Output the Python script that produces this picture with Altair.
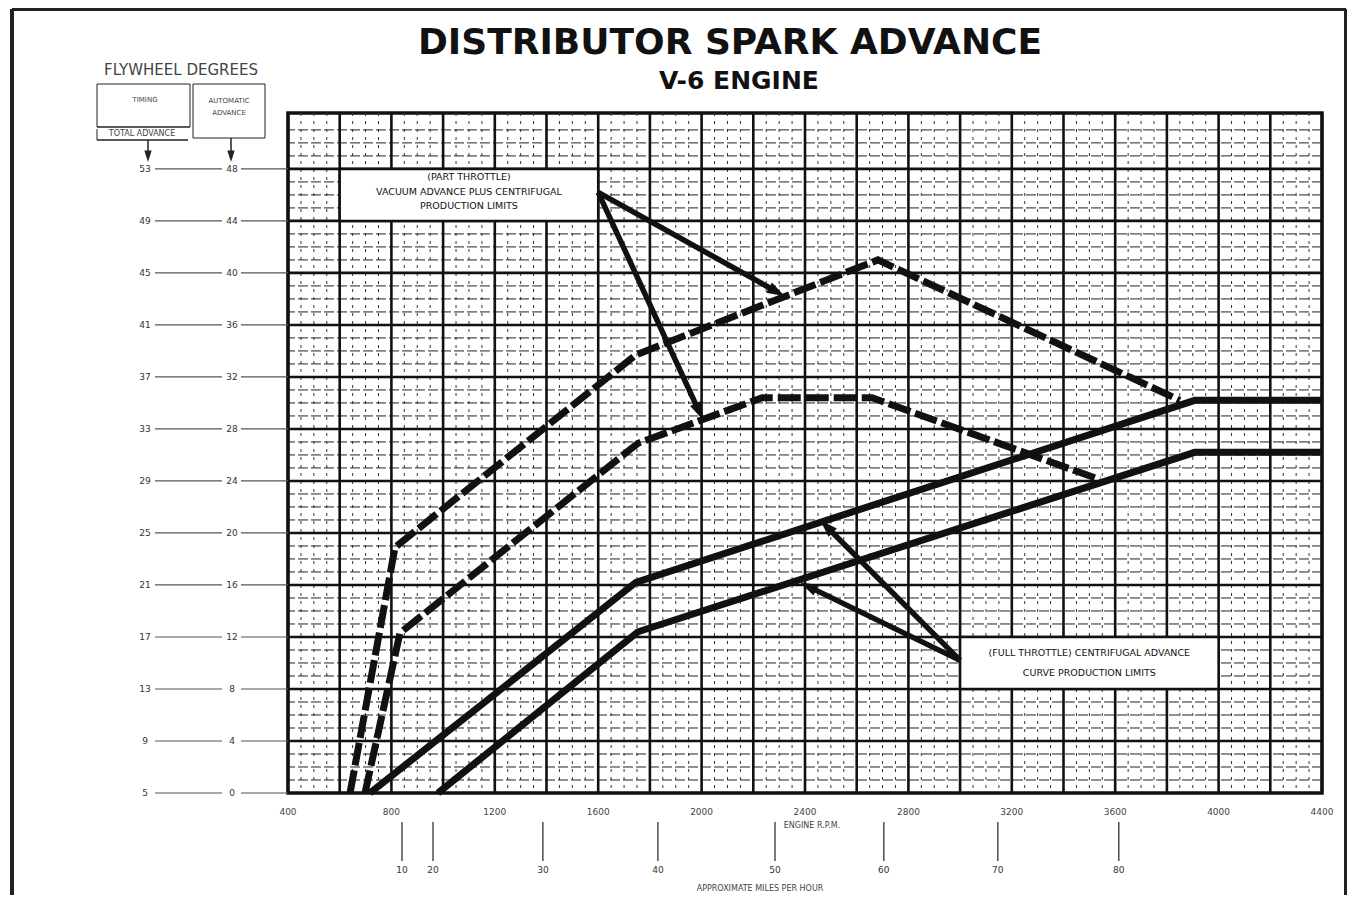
import math
import numpy as np
import pandas as pd
import altair as alt

# ---------------- data ----------------
rpm_ticks = [400, 800, 1200, 1600, 2000, 2400, 2800, 3200, 3600, 4000, 4400]
timing_labels = [5, 9, 13, 17, 21, 25, 29, 33, 37, 41, 45, 49, 53]
advance_labels = [0, 4, 8, 12, 16, 20, 24, 28, 32, 36, 40, 44, 48]
mph_values = [10, 20, 30, 40, 50, 60, 70, 80]
mph_rpm = [841, 961, 1386, 1831, 2284, 2705, 3146, 3614]

part_upper_rpm = [640, 814, 1746, 2682, 3850]
part_upper_deg = [0, 18.9, 33.7, 41.0, 30.2]
part_lower_rpm = [698, 833, 1754, 2234, 2659, 3541]
part_lower_deg = [0, 12.3, 26.9, 30.4, 30.4, 24.1]
full_upper_rpm = [717, 1746, 3908, 4400]
full_upper_deg = [0, 16.2, 30.2, 30.2]
full_lower_rpm = [980, 1754, 3908, 4400]
full_lower_deg = [0, 12.4, 26.2, 26.2]

part_label = ["(PART THROTTLE)", "VACUUM ADVANCE PLUS CENTRIFUGAL", "PRODUCTION LIMITS"]
full_label = ["(FULL THROTTLE) CENTRIFUGAL ADVANCE", "CURVE PRODUCTION LIMITS"]

# ---------------- layout ----------------
W, H = 1034, 680
XD = [400, 4400]
YD = [0, 52.3]
PX = W / (XD[1] - XD[0])
PY = H / (YD[1] - YD[0])
FONT = "DejaVu Sans"

xs = alt.Scale(domain=XD, nice=False, zero=False)
ys = alt.Scale(domain=YD, nice=False, zero=False)

# ---------------- grid ----------------
minor_v = pd.DataFrame({"rpm": [r for r in np.arange(400, 4401, 50) if r % 200 != 0]})
major_v = pd.DataFrame({"rpm": np.arange(400, 4401, 200)})
minor_h = pd.DataFrame({"deg": [d for d in np.arange(1, 53, 1) if d % 4 != 0]})
major_h = pd.DataFrame({"deg": np.arange(4, 52, 4)})

g_minor_v = alt.Chart(minor_v).mark_rule(color="#333", strokeWidth=1, strokeDash=[3, 5]).encode(
    x=alt.X("rpm:Q", scale=xs, axis=None))
g_minor_h = alt.Chart(minor_h).mark_rule(color="#222", strokeWidth=1, strokeDash=[10, 3]).encode(
    y=alt.Y("deg:Q", scale=ys, axis=None))
g_major_v = alt.Chart(major_v).mark_rule(color="#111", strokeWidth=2.6).encode(
    x=alt.X("rpm:Q", scale=xs, axis=None))
g_major_h = alt.Chart(major_h).mark_rule(color="#111", strokeWidth=2.6).encode(
    y=alt.Y("deg:Q", scale=ys, axis=None))

rpm_df = pd.DataFrame({"rpm": rpm_ticks, "t": [str(v) for v in rpm_ticks]})
rpm_text = alt.Chart(rpm_df).mark_text(font=FONT, fontSize=9, color="#444", baseline="middle").encode(
    x=alt.X("rpm:Q", scale=xs), y=alt.value(699), text="t:N")

# ---------------- curves ----------------
def series(name, rpm, deg):
    return pd.DataFrame({"series": name, "rpm": rpm, "deg": deg, "o": range(len(rpm))})

dashed = pd.concat([series("pu", part_upper_rpm, part_upper_deg),
                    series("pl", part_lower_rpm, part_lower_deg)])
solid = pd.concat([series("fu", full_upper_rpm, full_upper_deg),
                   series("fl", full_lower_rpm, full_lower_deg)])

l_dash = alt.Chart(dashed).mark_line(color="#111", strokeWidth=7, strokeDash=[23, 5], strokeCap="butt",
                                     strokeJoin="miter").encode(
    x=alt.X("rpm:Q", scale=xs), y=alt.Y("deg:Q", scale=ys), detail="series:N", order="o:Q")
l_solid = alt.Chart(solid).mark_line(color="#111", strokeWidth=7, strokeJoin="miter").encode(
    x=alt.X("rpm:Q", scale=xs), y=alt.Y("deg:Q", scale=ys), detail="series:N", order="o:Q")

# ---------------- annotation boxes and arrows ----------------
boxes = pd.DataFrame({"x": [600, 3000], "x2": [1600, 4000], "y": [44, 8], "y2": [48, 12]})
b_layer = alt.Chart(boxes).mark_rect(fill="white", stroke="#111", strokeWidth=2.5).encode(
    x=alt.X("x:Q", scale=xs), x2="x2:Q", y=alt.Y("y:Q", scale=ys), y2="y2:Q")

ann_text = pd.DataFrame({
    "rpm": [1100, 1100, 1100, 3500, 3500],
    "deg": [47.4, 46.2, 45.15, 10.75, 9.2],
    "t": part_label + full_label,
})
t_layer = alt.Chart(ann_text).mark_text(font=FONT, fontSize=9.5, color="#111").encode(
    x=alt.X("rpm:Q", scale=xs), y=alt.Y("deg:Q", scale=ys), text="t:N")

arrows = [(1600, 46.2, 2322, 38.2), (1600, 46.2, 2005, 28.7),
          (3000, 10.2, 2458, 21.0), (3000, 10.2, 2380, 16.2)]
shaft_rows, head_rows = [], []
for x0, y0, x1, y1 in arrows:
    dx = (x1 - x0) * PX
    dy = -(y1 - y0) * PY
    L = math.hypot(dx, dy)
    ang = math.degrees(math.atan2(dx, -dy)) % 360
    back = 12.0
    ex = x1 - (dx / L * back) / PX
    ey = y1 + (dy / L * back) / PY
    shaft_rows.append({"x": x0, "y": y0, "x2": ex, "y2": ey})
    head_rows.append({"x": x1, "y": y1, "a": ang})
shafts = alt.Chart(pd.DataFrame(shaft_rows)).mark_rule(color="#111", strokeWidth=5.5).encode(
    x=alt.X("x:Q", scale=xs), y=alt.Y("y:Q", scale=ys), x2="x2:Q", y2="y2:Q")
ARROW = "M0,0L-0.55,1.7L0.55,1.7Z"
heads = alt.Chart(pd.DataFrame(head_rows)).mark_point(shape=ARROW, filled=True, color="#111", size=450,
                                                        opacity=1).encode(
    x=alt.X("x:Q", scale=xs), y=alt.Y("y:Q", scale=ys), angle=alt.Angle("a:Q", scale=None))

# ---------------- left degree scales ----------------
left = pd.DataFrame({"deg": advance_labels, "timing": [str(v) for v in timing_labels],
                     "auto": [str(v) for v in advance_labels]})
left_rule1 = alt.Chart(left).mark_rule(color="#555", strokeWidth=1.2).encode(
    y=alt.Y("deg:Q", scale=ys), x=alt.value(-133), x2=alt.value(-66))
left_rule2 = alt.Chart(left).mark_rule(color="#555", strokeWidth=1.2).encode(
    y=alt.Y("deg:Q", scale=ys), x=alt.value(-47), x2=alt.value(0))
left_t1 = alt.Chart(left).mark_text(font=FONT, fontSize=9, color="#333").encode(
    y=alt.Y("deg:Q", scale=ys), x=alt.value(-143), text="timing:N")
left_t2 = alt.Chart(left).mark_text(font=FONT, fontSize=9, color="#333").encode(
    y=alt.Y("deg:Q", scale=ys), x=alt.value(-56), text="auto:N")

# ---------------- mph scale ----------------
mph = pd.DataFrame({"rpm": mph_rpm, "mph": [str(v) for v in mph_values]})
mph_ticks = alt.Chart(mph).mark_rule(color="#333", strokeWidth=1.3).encode(
    x=alt.X("rpm:Q", scale=xs), y=alt.value(709), y2=alt.value(748))
mph_text = alt.Chart(mph).mark_text(font=FONT, fontSize=9, color="#333", baseline="middle").encode(
    x=alt.X("rpm:Q", scale=xs), y=alt.value(757), text="mph:N")

# ---------------- pixel-placed decoration (relative to plot origin) ----------------
OX, OY = 288, 113
px_rules = pd.DataFrame([
    # outer frame
    {"x": 12, "x2": 12, "y": 9, "y2": 910, "w": 4},
    {"x": 12, "x2": 1346, "y": 9, "y2": 9, "w": 4},
    {"x": 1346, "x2": 1346, "y": 9, "y2": 910, "w": 4},
    # legend boxes
    {"x": 97, "x2": 190, "y": 84, "y2": 84, "w": 1},
    {"x": 97, "x2": 97, "y": 84, "y2": 127, "w": 1},
    {"x": 190, "x2": 190, "y": 84, "y2": 127, "w": 1},
    {"x": 97, "x2": 190, "y": 127, "y2": 127, "w": 1.5},
    {"x": 97, "x2": 188, "y": 140, "y2": 140, "w": 1.5},
    {"x": 97, "x2": 97, "y": 129, "y2": 140, "w": 1},
    {"x": 193, "x2": 265, "y": 84, "y2": 84, "w": 1},
    {"x": 193, "x2": 193, "y": 84, "y2": 138, "w": 1},
    {"x": 265, "x2": 265, "y": 84, "y2": 138, "w": 1},
    {"x": 193, "x2": 265, "y": 138, "y2": 138, "w": 1},
    # legend arrows
    {"x": 148, "x2": 148, "y": 140, "y2": 152, "w": 1.5},
    {"x": 231, "x2": 231, "y": 138, "y2": 152, "w": 1.5},
])
for c in ["x", "x2"]:
    px_rules[c] = px_rules[c] - OX
for c in ["y", "y2"]:
    px_rules[c] = px_rules[c] - OY
r_px = alt.Chart(px_rules).mark_rule(color="#222").encode(
    x=alt.X("x:Q", scale=None), x2="x2:Q", y=alt.Y("y:Q", scale=None), y2="y2:Q",
    strokeWidth=alt.StrokeWidth("w:Q", scale=None))

px_heads = pd.DataFrame({"x": [148 - OX, 231 - OX], "y": [162 - OY, 162 - OY], "a": [180, 180]})
h_px = alt.Chart(px_heads).mark_point(shape=ARROW, filled=True, color="#222", size=180, opacity=1).encode(
    x=alt.X("x:Q", scale=None), y=alt.Y("y:Q", scale=None), angle=alt.Angle("a:Q", scale=None))

px_text = pd.DataFrame([
    {"x": 181, "y": 70, "t": "FLYWHEEL  DEGREES", "s": 15},
    {"x": 145, "y": 100, "t": "TIMING", "s": 7},
    {"x": 229, "y": 101, "t": "AUTOMATIC", "s": 7},
    {"x": 229, "y": 113, "t": "ADVANCE", "s": 7},
    {"x": 142, "y": 134, "t": "TOTAL ADVANCE", "s": 8},
    {"x": 812, "y": 826, "t": "ENGINE  R.P.M.", "s": 8},
    {"x": 760, "y": 889, "t": "APPROXIMATE  MILES  PER HOUR", "s": 8},
])
px_text["x"] = px_text["x"] - OX
px_text["y"] = px_text["y"] - OY
tx_px = alt.Chart(px_text).mark_text(font=FONT, color="#444", baseline="middle").encode(
    x=alt.X("x:Q", scale=None), y=alt.Y("y:Q", scale=None), text="t:N",
    size=alt.Size("s:Q", scale=None))

titles = pd.DataFrame([
    {"x": 730 - OX, "y": 43 - OY, "t": "DISTRIBUTOR  SPARK  ADVANCE", "s": 36},
    {"x": 739 - OX, "y": 81 - OY, "t": "V-6  ENGINE", "s": 25},
])
tt = alt.Chart(titles).mark_text(font=FONT, fontWeight="bold", color="#111", baseline="middle").encode(
    x=alt.X("x:Q", scale=None), y=alt.Y("y:Q", scale=None), text="t:N",
    size=alt.Size("s:Q", scale=None))

chart = alt.layer(
    g_minor_v, g_minor_h, g_major_v, g_major_h, rpm_text,
    l_dash, l_solid,
    b_layer, t_layer, shafts, heads,
    left_rule1, left_rule2, left_t1, left_t2,
    mph_ticks, mph_text,
    r_px, h_px, tx_px, tt,
).properties(
    width=W, height=H, autosize="none",
    padding={"left": 280, "top": 105, "right": 25, "bottom": 102},
    background="white",
).configure_view(stroke="#111", strokeWidth=3.5)

chart.save("out.html", embed_options={"renderer": "svg", "actions": False})
